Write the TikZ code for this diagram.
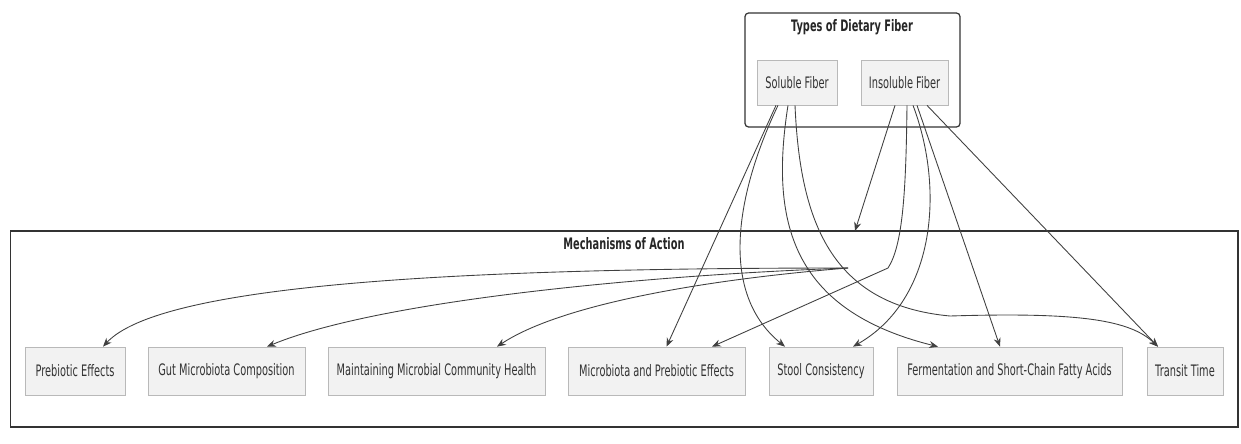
\documentclass[tikz,border=0pt]{standalone}
\usepackage{fontspec}
\setmainfont{DejaVu Sans}[FakeStretch=0.62]
\usepackage{tikz}
\usetikzlibrary{arrows.meta,calc}

\tikzset{
	fiber/.style={draw=gray!55, fill=gray!10, inner sep=0pt, minimum height=0.9cm, text=black!80, font=\fontsize{9}{10}\selectfont},
	effect/.style={fiber, minimum height=0.96cm},
	cluster/.style={draw=black!80, line width=0.7pt, inner sep=0pt},
	clustertitle/.style={text=black!85, font=\bfseries\fontsize{9}{10}\selectfont},
	link/.style={draw=black!75, line width=0.5pt, -{Stealth[length=5pt,width=4pt]}},
}

\begin{document}
\begin{tikzpicture}[x=0.02cm,y=-0.02cm]
		\useasboundingbox (0,0) rectangle (1241,443);
		
		% groups
		\node[cluster, rounded corners=2pt, minimum width=4.3cm, minimum height=2.28cm] (types) at (852.5,70) {};
		\node[cluster, minimum width=24.56cm, minimum height=3.92cm] (mechanisms) at (624,329) {};
		\node[clustertitle] (typestitle) at (852,27) {Types of Dietary Fiber};
		\node[clustertitle] (mechtitle) at (624,244) {Mechanisms of Action};
		\coordinate (mechin) at (855,231);
		\coordinate (mechout) at (848,268);
		
		\node[fiber, minimum width=1.6cm] (soluble) at (797,82.5) {Soluble Fiber};
		\node[fiber, minimum width=1.74cm] (insoluble) at (904.5,82.5) {Insoluble Fiber};
		
		\node[effect, minimum width=2cm] (prebiotic) at (75,371) {Prebiotic Effects};
		\node[effect, minimum width=3.14cm] (gutcomp) at (226.5,371) {Gut Microbiota Composition};
		\node[effect, minimum width=4.34cm] (maintain) at (436.5,371) {Maintaining Microbial Community Health};
		\node[effect, minimum width=3.54cm] (microprebiotic) at (656.5,371) {Microbiota and Prebiotic Effects};
		\node[effect, minimum width=2.08cm] (stool) at (821,371) {Stool Consistency};
		\node[effect, minimum width=4.5cm] (ferment) at (1009.5,371) {Fermentation and Short-Chain Fatty Acids};
		\node[effect, minimum width=1.52cm] (transit) at (1185,371) {Transit Time};
		
		% soluble fiber
		\draw[link] ($(soluble.south)+(-21,0)$) -- ($(microprebiotic.north)+(10,0)$);
		\draw[link] ($(soluble.south)+(-19,0)$) .. controls (740,185) and (715,290) .. ($(stool.north)+(-36,0)$);
		\draw[link] ($(soluble.south)+(-9,0)$) .. controls (770,220) and (790,310) .. ($(ferment.north)+(-71.5,0)$);
		\draw[link] ($(soluble.south)+(-2,0)$) .. controls (800,220) and (830,305) .. (950,316) .. controls (1080,312) and (1130,320) .. ($(transit.north)+(-27,0)$);
		
		% insoluble fiber
		\draw[link] ($(insoluble.south)+(-9.5,0)$) -- (mechin);
		\draw[link] ($(insoluble.south)+(2.5,0)$) .. controls (906,190) and (903,245) .. (888,268) -- ($(microprebiotic.north)+(55.5,0)$);
		\draw[link] ($(insoluble.south)+(8.5,0)$) .. controls (945,190) and (935,300) .. ($(stool.north)+(32,0)$);
		\draw[link] ($(insoluble.south)+(12.5,0)$) -- ($(ferment.north)+(-9.5,0)$);
		\draw[link] ($(insoluble.south)+(22.5,0)$) -- ($(transit.north)+(-27,0)$);
		
		% mechanisms
		\draw[link] (mechout) .. controls (450,268) and (160,285) .. ($(prebiotic.north)+(28,0)$);
		\draw[link] (mechout) .. controls (650,275) and (380,300) .. ($(gutcomp.north)+(40.5,0)$);
		\draw[link] (mechout) .. controls (700,280) and (560,305) .. ($(maintain.north)+(60.5,0)$);
	\end{tikzpicture}
\end{document}
